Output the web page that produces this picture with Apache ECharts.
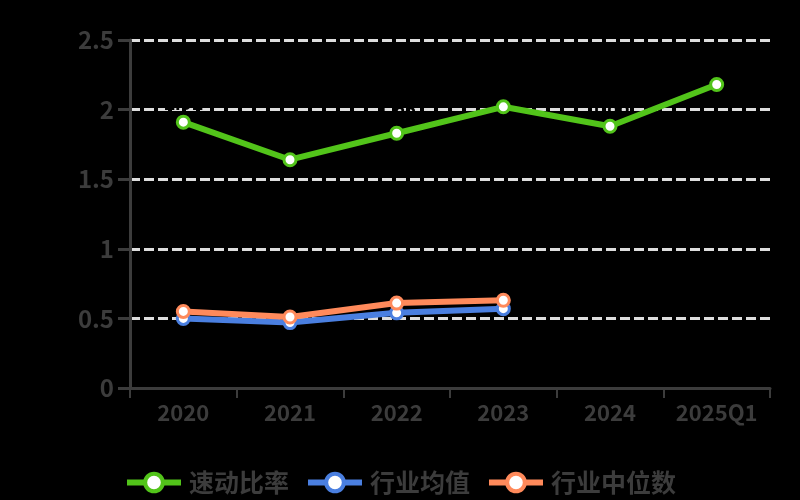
<!DOCTYPE html>
<html><head><meta charset="utf-8">
<script src="https://cdn.jsdelivr.net/npm/echarts@6/dist/echarts.min.js"></script>
<style>html,body{margin:0;padding:0;background:#000;}#c{width:800px;height:500px;}</style>
</head><body><div id="c"></div>
<script>
const categories = ['2020', '2021', '2022', '2023', '2024', '2025Q1'];
const seriesNames = ['速动比率', '行业均值', '行业中位数'];
const companyValues = [1.91, 1.64, 1.83, 2.02, 1.88, 2.18];
const industryMean = [0.50, 0.47, 0.54, 0.57, null, null];
const industryMedian = [0.55, 0.51, 0.61, 0.63, null, null];
const yTicks = [0, 0.5, 1, 1.5, 2, 2.5];

const colors = ['#52c41a', '#4a7fe0', '#ff8a5b'];
const chart = echarts.init(document.getElementById('c'));
function mk(name, data, color, showLabel) {
  return {
    name: name, type: 'line', data: data,
    symbol: 'circle', symbolSize: 12, showSymbol: true,
    lineStyle: { width: 6, color: color },
    itemStyle: { color: '#fff', borderColor: color, borderWidth: 3 },
    label: { show: showLabel, position: 'top', distance: 0, color: '#000', fontSize: 20, fontWeight: 'bold',
      formatter: p => p.value.toFixed(2) },
    connectNulls: false
  };
}
chart.setOption({
  backgroundColor: '#000',
  animation: false,
  color: colors,
  grid: { left: 130, right: 30, top: 40, bottom: 112, containLabel: false },
  legend: {
    bottom: 0, left: 'center', itemWidth: 54, itemHeight: 22, itemGap: 16,
    lineStyle: { width: 6 },
    itemStyle: { borderWidth: 4 },
    textStyle: { color: '#3c3c3c', fontSize: 25, fontWeight: 'bold', fontFamily: 'Noto Sans CJK SC', padding: [0, 0, 0, 3] },
    data: seriesNames
  },
  xAxis: {
    type: 'category', data: categories, boundaryGap: true,
    axisLine: { lineStyle: { color: '#3c3c3c', width: 3 } },
    axisTick: { show: true, length: 10, lineStyle: { color: '#3c3c3c', width: 2 } },
    axisLabel: { interval: 0, color: '#3c3c3c', fontSize: 22, fontWeight: 'bold', margin: 14, fontFamily: 'Noto Sans CJK SC' }
  },
  yAxis: {
    type: 'value', min: yTicks[0], max: yTicks[yTicks.length - 1], interval: 0.5,
    axisLine: { show: true, lineStyle: { color: '#3c3c3c', width: 3 } },
    axisTick: { show: true, length: 12, lineStyle: { color: '#3c3c3c', width: 3 } },
    axisLabel: { color: '#3c3c3c', fontSize: 24, fontWeight: 'bold', margin: 16, fontFamily: 'Noto Sans CJK SC' },
    splitLine: { show: true, lineStyle: { color: '#dddddd', width: 3, type: [10, 4] } }
  },
  series: [
    mk(seriesNames[0], companyValues, colors[0], true),
    mk(seriesNames[1], industryMean, colors[1], false),
    mk(seriesNames[2], industryMedian, colors[2], false)
  ]
});
</script></body></html>
